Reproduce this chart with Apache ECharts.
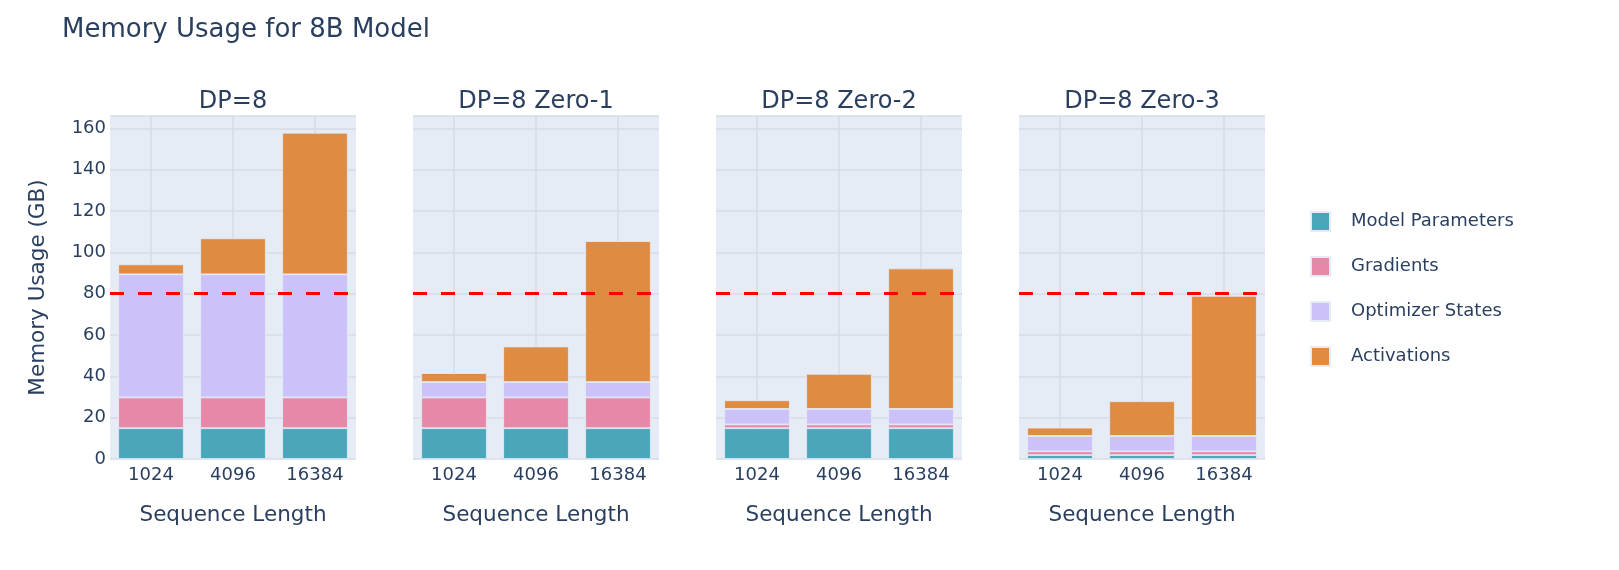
<!DOCTYPE html>
<html>
<head>
<meta charset="utf-8">
<script src="https://cdn.jsdelivr.net/npm/echarts@6/dist/echarts.min.js"></script>
<style>
html,body{margin:0;padding:0;background:#fff;}
#chart{width:1619px;height:570px;}
</style>
</head>
<body>
<div id="chart"></div>
<script>
// ---- data ----
const categories = ['1024', '4096', '16384'];
const panelTitles = ['DP=8', 'DP=8 Zero-1', 'DP=8 Zero-2', 'DP=8 Zero-3'];
const seriesNames = ['Model Parameters', 'Gradients', 'Optimizer States', 'Activations'];
const modelParams = [
  [14.9, 14.9, 14.9],
  [14.9, 14.9, 14.9],
  [14.9, 14.9, 14.9],
  [1.86, 1.86, 1.86]
];
const gradients = [
  [14.9, 14.9, 14.9],
  [14.9, 14.9, 14.9],
  [1.86, 1.86, 1.86],
  [1.86, 1.86, 1.86]
];
const optimizerStates = [
  [59.6, 59.6, 59.6],
  [7.45, 7.45, 7.45],
  [7.45, 7.45, 7.45],
  [7.45, 7.45, 7.45]
];
const activations = [
  [4.8, 17.4, 68.5],
  [4.3, 17.2, 68.2],
  [4.2, 17.0, 68.0],
  [4.0, 16.8, 67.8]
];
const memoryLimit = 80;
const yTicks = [0, 20, 40, 60, 80, 100, 120, 140, 160];

// ---- styling ----
const colors = ['#4ca6b9', '#e888a8', '#cdc1fa', '#e08b42'];
const textColor = '#2a3f5f';
const font = '"DejaVu Sans", Verdana, sans-serif';
const panelLeft = [110, 413, 716, 1019];
const panelWidth = 246;
const plotTop = 116;
const plotHeight = 343;
const gridColor = '#d6dbe4';

const dataBySeries = [modelParams, gradients, optimizerStates, activations];

const grids = [], xAxes = [], yAxes = [], series = [], titles = [];

titles.push({
  text: 'Memory Usage for 8B Model',
  left: 62, top: 17, padding: 0,
  textStyle: {fontFamily: font, fontSize: 26, fontWeight: 'normal', color: textColor}
});

for (let p = 0; p < 4; p++) {
  grids.push({left: panelLeft[p], top: plotTop, width: panelWidth, height: plotHeight,
    show: true, backgroundColor: '#e5ecf6', borderWidth: 0});
  titles.push({
    text: panelTitles[p],
    left: panelLeft[p] + panelWidth / 2, top: 90, padding: 0,
    textAlign: 'center',
    textStyle: {fontFamily: font, fontSize: 24, fontWeight: 'normal', color: textColor}
  });
  xAxes.push({
    type: 'category', gridIndex: p, data: categories,
    axisLine: {show: false}, axisTick: {show: false},
    axisLabel: {fontFamily: font, fontSize: 18, color: textColor, margin: 7},
    splitLine: {show: true, alignWithLabel: true, lineStyle: {color: gridColor, width: 1.5}},
    name: 'Sequence Length', nameLocation: 'middle', nameGap: 45,
    nameTextStyle: {fontFamily: font, fontSize: 21.5, color: textColor}
  });
  yAxes.push({
    type: 'value', gridIndex: p, min: 0, max: 166, interval: 20,
    axisLine: {show: false}, axisTick: {show: false},
    axisLabel: {show: p === 0, fontFamily: font, fontSize: 18, color: textColor, margin: 4,
      showMaxLabel: false,
      formatter: v => (yTicks.indexOf(v) >= 0 ? String(v) : '')},
    splitLine: {show: true, lineStyle: {color: gridColor, width: 1.5}},
    name: p === 0 ? 'Memory Usage (GB)' : '', nameLocation: 'middle', nameGap: 61, nameRotate: 90,
    nameTextStyle: {fontFamily: font, fontSize: 21.5, color: textColor}
  });
  for (let s = 0; s < 4; s++) {
    const ser = {
      name: seriesNames[s], type: 'bar', stack: 'panel' + p,
      xAxisIndex: p, yAxisIndex: p,
      data: dataBySeries[s][p],
      barCategoryGap: '20%',
      itemStyle: {color: colors[s], borderColor: '#e5ecf6', borderWidth: 0.8},
      emphasis: {disabled: true},
      animation: false
    };
    if (s === 3) {
      ser.markLine = {
        silent: true, symbol: 'none', animation: false,
        label: {show: false},
        lineStyle: {color: '#ff0000', width: 3, type: [14, 14]},
        data: [{yAxis: memoryLimit}]
      };
    }
    series.push(ser);
  }
}

const chart = echarts.init(document.getElementById('chart'));
chart.setOption({
  animation: false,
  backgroundColor: '#ffffff',
  title: titles,
  color: colors,
  legend: {
    orient: 'vertical', left: 1310, top: 211, padding: 0,
    itemWidth: 19, itemHeight: 19, itemGap: 24,
    icon: 'rect',
    data: seriesNames,
    textStyle: {fontFamily: font, fontSize: 18, color: textColor, padding: [0, 0, 0, 16]}
  },
  grid: grids,
  xAxis: xAxes,
  yAxis: yAxes,
  series: series
});
</script>
</body>
</html>
